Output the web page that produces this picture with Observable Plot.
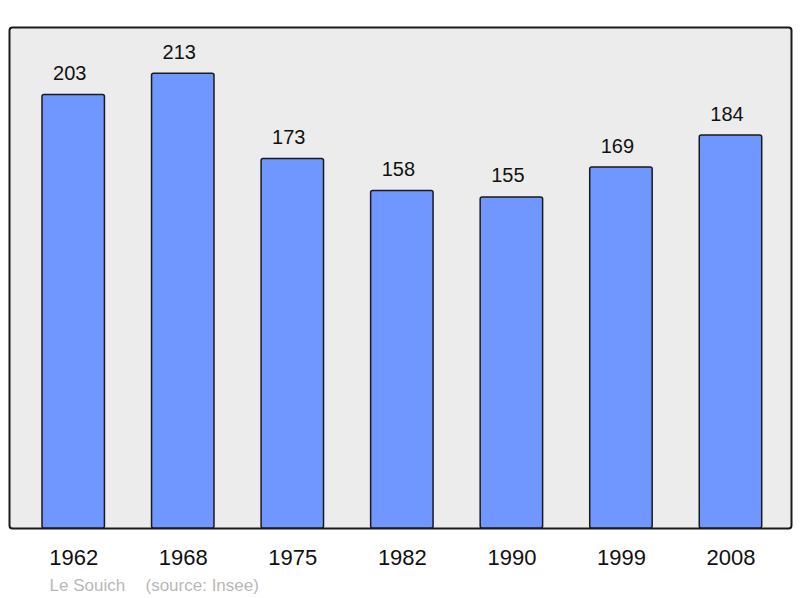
<!DOCTYPE html>
<html>
<head>
<meta charset="utf-8">
<script src="https://cdn.jsdelivr.net/npm/d3@7"></script>
<script src="https://cdn.jsdelivr.net/npm/@observablehq/plot@0.6"></script>
<style>
  html, body { margin: 0; padding: 0; background: #fff; }
  #chart svg { display: block; }
</style>
</head>
<body>
<div id="chart"></div>
<script>
const years = ["1962", "1968", "1975", "1982", "1990", "1999", "2008"];
const population = [203, 213, 173, 158, 155, 169, 184];
const commune = "Le Souich";
const source = "(source: Insee)";

const data = years.map((y, i) => ({year: y, pop: population[i]}));
const font = "'Liberation Sans', Arial, sans-serif";

const chart = Plot.plot({
  width: 800,
  height: 598,
  marginLeft: 9,
  marginRight: 9,
  marginTop: 27,
  marginBottom: 70,
  style: {fontFamily: font, background: "#fff"},
  x: {domain: years, range: [42, 761.7], paddingInner: 0.43, paddingOuter: 0, align: 0.5, round: false},
  y: {domain: [0, 234.6], axis: null},
  marks: [
    Plot.frame({fill: "#ececec", stroke: "#1a1a1a", strokeWidth: 2, rx: 3}),
    Plot.barY(data, {x: "year", y: "pop", fill: "#7096ff", stroke: "#1a1a1a", strokeWidth: 1.5, rx: 2}),
    Plot.text(data, {x: "year", y: "pop", text: d => String(d.pop), lineAnchor: "bottom", dy: -15, dx: -4, fontSize: 20, fill: "#111"}),
    Plot.axisX({tickSize: 0, tickPadding: 21, fontSize: 22, label: null, color: "#111"}),
    Plot.text([commune], {frameAnchor: "bottom-left", textAnchor: "start", lineAnchor: "bottom", dx: 40, dy: 62, fontSize: 17, fill: "#b8b8b8"}),
    Plot.text([source], {frameAnchor: "bottom-left", textAnchor: "start", lineAnchor: "bottom", dx: 136, dy: 62, fontSize: 17, fill: "#b8b8b8"})
  ]
});
document.getElementById("chart").appendChild(chart);
</script>
</body>
</html>
